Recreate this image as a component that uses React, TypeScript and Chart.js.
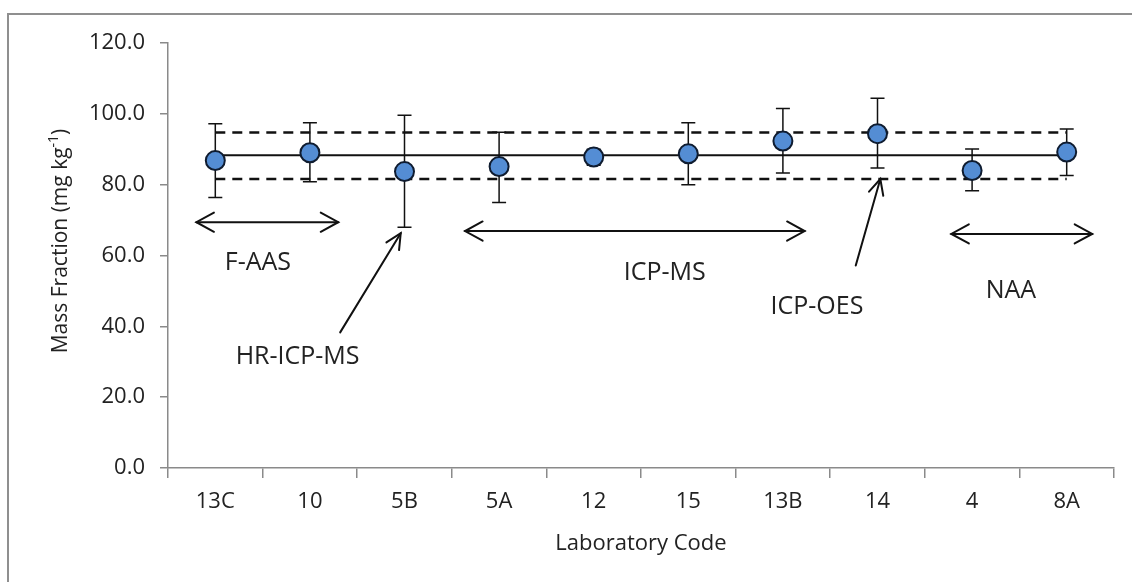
import React, { useEffect, useRef } from "react";
import { Chart, registerables } from "chart.js";

Chart.register(...registerables);

// ---- data ----
const labCodes = ["13C", "10", "5B", "5A", "12", "15", "13B", "14", "4", "8A"];
const massFraction = [86.8, 89.0, 83.7, 85.1, 87.8, 88.7, 92.3, 94.4, 84.0, 89.2];
const errorHigh = [97.2, 97.5, 99.6, 94.8, 90.0, 97.5, 101.5, 104.4, 90.1, 95.7];
const errorLow = [76.4, 80.8, 68.0, 75.0, 85.5, 80.0, 83.3, 84.7, 78.3, 82.6];
const consensusMean = [88.3, 88.3, 88.3, 88.3, 88.3, 88.3, 88.3, 88.3, 88.3, 88.3];
const upperLimit = [94.7, 94.7, 94.7, 94.7, 94.7, 94.7, 94.7, 94.7, 94.7, 94.7];
const lowerLimit = [81.6, 81.6, 81.6, 81.6, 81.6, 81.6, 81.6, 81.6, 81.6, 81.6];
const yTickValues = [0, 20, 40, 60, 80, 100, 120];

// method annotations (category index, value)
const methodNames = ["F-AAS", "HR-ICP-MS", "ICP-MS", "ICP-OES", "NAA"];
const methodTextX = [0.45, 0.87, 4.75, 6.36, 8.41];
const methodTextY = [57.8, 31.3, 55.0, 45.4, 49.9];
// double-headed range arrows
const rangeStartX = [-0.2, 2.64, 7.78];
const rangeEndX = [1.3, 6.23, 9.27];
const rangeY = [69.4, 66.9, 66.1];
// single-headed pointer arrows
const pointerFromX = [1.32, 6.77];
const pointerFromY = [38.3, 57.2];
const pointerToX = [1.96, 7.03];
const pointerToY = [66.3, 81.6];

const FONT = "'Open Sans', 'Noto Sans', sans-serif";
const TEXT = "#222222";
const AXIS = "#8a8a8a";

function head(ctx: CanvasRenderingContext2D, tx: number, ty: number, fx: number, fy: number, len: number, ang: number) {
  const a = Math.atan2(ty - fy, tx - fx);
  ctx.beginPath();
  ctx.moveTo(tx - len * Math.cos(a - ang), ty - len * Math.sin(a - ang));
  ctx.lineTo(tx, ty);
  ctx.lineTo(tx - len * Math.cos(a + ang), ty - len * Math.sin(a + ang));
  ctx.stroke();
}

const errorBarPlugin = {
  id: "errorBars",
  beforeDatasetDraw(chart: any, args: any) {
    if (args.index !== 0) return;
    const { ctx, scales } = chart;
    const x = scales.x, y = scales.y;
    ctx.save();
    ctx.strokeStyle = "#111111";
    ctx.lineWidth = 1.5;
    for (let i = 0; i < labCodes.length; i++) {
      const px = x.getPixelForValue(i);
      const top = y.getPixelForValue(errorHigh[i]);
      const bot = y.getPixelForValue(errorLow[i]);
      ctx.beginPath();
      ctx.moveTo(px, top);
      ctx.lineTo(px, bot);
      ctx.moveTo(px - 7, top);
      ctx.lineTo(px + 7, top);
      ctx.moveTo(px - 7, bot);
      ctx.lineTo(px + 7, bot);
      ctx.stroke();
    }
    ctx.restore();
  },
};

const annotationPlugin = {
  id: "annotations",
  afterDraw(chart: any) {
    const { ctx, scales } = chart;
    const x = scales.x, y = scales.y;
    ctx.save();
    ctx.strokeStyle = "#111111";
    ctx.lineWidth = 2;
    ctx.lineCap = "round";
    ctx.lineJoin = "miter";
    for (let i = 0; i < rangeY.length; i++) {
      const x0 = x.getPixelForValue(rangeStartX[i]);
      const x1 = x.getPixelForValue(rangeEndX[i]);
      const py = y.getPixelForValue(rangeY[i]);
      ctx.beginPath();
      ctx.moveTo(x0, py);
      ctx.lineTo(x1, py);
      ctx.stroke();
      head(ctx, x0, py, x1, py, 20, 0.5);
      head(ctx, x1, py, x0, py, 20, 0.5);
    }
    for (let i = 0; i < pointerFromX.length; i++) {
      const fx = x.getPixelForValue(pointerFromX[i]);
      const fy = y.getPixelForValue(pointerFromY[i]);
      const tx = x.getPixelForValue(pointerToX[i]);
      const ty = y.getPixelForValue(pointerToY[i]);
      ctx.beginPath();
      ctx.moveTo(fx, fy);
      ctx.lineTo(tx, ty);
      ctx.stroke();
      head(ctx, tx, ty, fx, fy, 17, 0.45);
    }
    ctx.fillStyle = TEXT;
    ctx.font = `25px ${FONT}`;
    ctx.textAlign = "center";
    ctx.textBaseline = "middle";
    for (let i = 0; i < methodNames.length; i++) {
      ctx.fillText(methodNames[i], x.getPixelForValue(methodTextX[i]), y.getPixelForValue(methodTextY[i]));
    }

    // y axis title with superscript
    const part1 = "Mass Fraction (mg kg";
    const sup = "-1";
    const part3 = ")";
    ctx.font = `21px ${FONT}`;
    const w1 = ctx.measureText(part1).width;
    const w3 = ctx.measureText(part3).width;
    ctx.font = `14px ${FONT}`;
    const w2 = ctx.measureText(sup).width;
    const total = w1 + w2 + w3;
    const cx = 61;
    const cy = 241;
    ctx.translate(cx, cy);
    ctx.rotate(-Math.PI / 2);
    ctx.textAlign = "left";
    ctx.textBaseline = "middle";
    let sx = -total / 2;
    ctx.font = `21px ${FONT}`;
    ctx.fillText(part1, sx, 0);
    sx += w1;
    ctx.font = `14px ${FONT}`;
    ctx.fillText(sup, sx, -7);
    sx += w2;
    ctx.font = `21px ${FONT}`;
    ctx.fillText(part3, sx, 0);
    ctx.restore();
  },
};

export default function App() {
  const ref = useRef<HTMLCanvasElement | null>(null);

  useEffect(() => {
    if (!ref.current) return;
    const chart = new Chart(ref.current, {
      type: "line",
      data: {
        labels: labCodes,
        datasets: [
          {
            label: "Mass Fraction",
            data: massFraction,
            showLine: false,
            pointRadius: 9.5,
            pointHoverRadius: 9.5,
            pointBackgroundColor: "#548dd4",
            pointBorderColor: "#0f1c30",
            pointBorderWidth: 2,
            borderColor: "#0f1c30",
            backgroundColor: "#548dd4",
          },
          {
            label: "Mean",
            data: consensusMean,
            borderColor: "#111111",
            borderWidth: 2,
            pointRadius: 0,
            fill: false,
          },
          {
            label: "Upper",
            data: upperLimit,
            borderColor: "#111111",
            borderWidth: 2.5,
            borderDash: [10, 7],
            pointRadius: 0,
            fill: false,
          },
          {
            label: "Lower",
            data: lowerLimit,
            borderColor: "#111111",
            borderWidth: 2.5,
            borderDash: [10, 7],
            pointRadius: 0,
            fill: false,
          },
        ],
      },
      options: {
        responsive: false,
        animation: false,
        events: [],
        layout: { padding: { top: 43, right: 18, left: 0, bottom: 0 } },
        plugins: {
          legend: { display: false },
          tooltip: { enabled: false },
        },
        scales: {
          x: {
            type: "category",
            offset: true,
            grid: {
              offset: true,
              drawOnChartArea: false,
              drawTicks: true,
              tickLength: 10,
              color: AXIS,
              lineWidth: 1.5,
            },
            border: { color: AXIS, width: 1.5 },
            ticks: {
              color: TEXT,
              font: { family: FONT, size: 22 },
              padding: 11,
              maxRotation: 0,
              autoSkip: false,
            },
            title: {
              display: true,
              text: "Laboratory Code",
              color: TEXT,
              font: { family: FONT, size: 22 },
              padding: { top: 0, bottom: 25 },
            },
            afterFit: (s: any) => {
              s.height = 114;
            },
          },
          y: {
            type: "linear",
            min: 0,
            max: 120,
            afterBuildTicks: (s: any) => {
              s.ticks = yTickValues.map((v) => ({ value: v }));
            },
            grid: {
              drawOnChartArea: false,
              drawTicks: true,
              tickLength: 8,
              color: AXIS,
              lineWidth: 1.5,
            },
            border: { color: AXIS, width: 1.5 },
            ticks: {
              color: TEXT,
              font: { family: FONT, size: 22 },
              padding: 15,
              callback: (v: any) => Number(v).toFixed(1),
            },
            afterFit: (s: any) => {
              s.width = 168;
            },
          },
        },
      },
      plugins: [errorBarPlugin, annotationPlugin],
    });
    return () => chart.destroy();
  }, []);

  return (
    <div
      style={{
        position: "fixed",
        left: 0,
        top: 0,
        width: 1132,
        height: 582,
        background: "#ffffff",
        overflow: "hidden",
      }}
    >
      <div
        style={{
          position: "absolute",
          left: 7,
          top: 13,
          width: 1300,
          height: 800,
          borderTop: "2px solid #8f8f8f",
          borderLeft: "2px solid #8f8f8f",
          pointerEvents: "none",
        }}
      />
      <canvas
        ref={ref}
        width={1132}
        height={582}
        style={{ position: "absolute", left: 0, top: 0, width: 1132, height: 582 }}
      />
    </div>
  );
}
